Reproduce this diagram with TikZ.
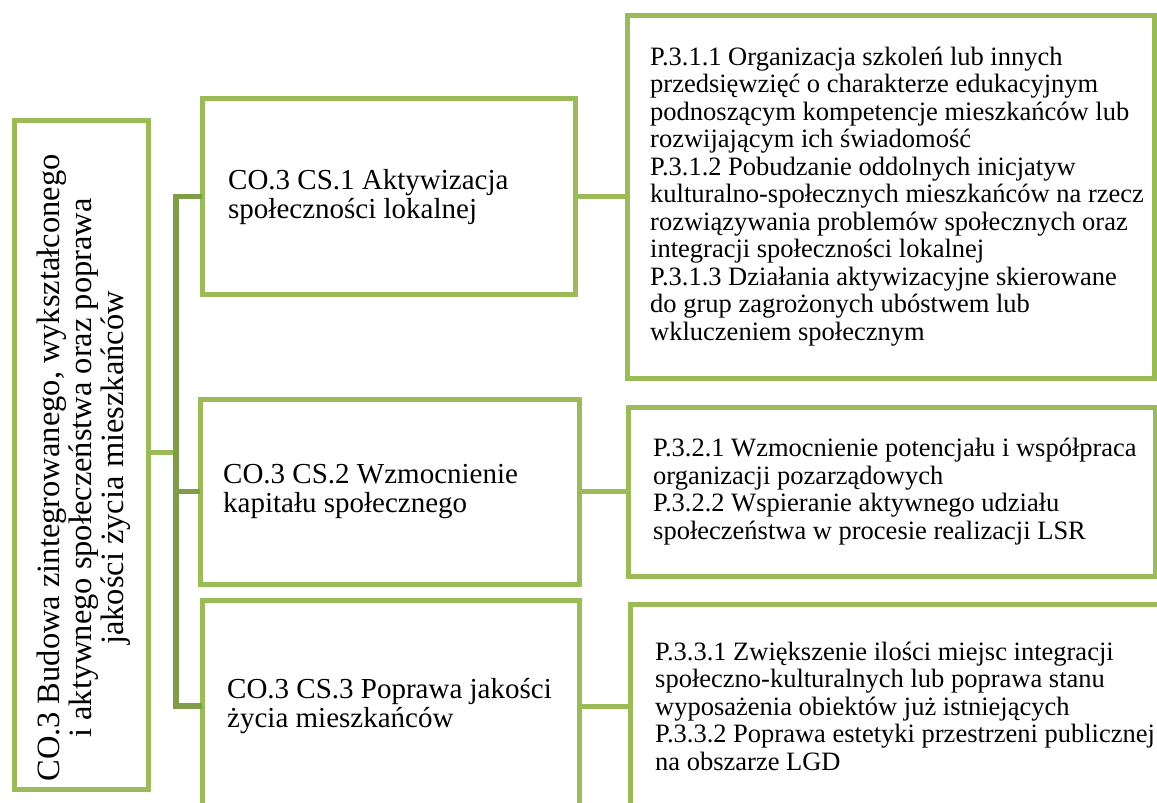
\documentclass[tikz,border=0pt]{standalone}
\usepackage{fontspec}
\setmainfont{Liberation Serif}
\definecolor{boxgreen}{HTML}{9BBB59}
\definecolor{spinegreen}{HTML}{7F9D48}
\begin{document}
\begin{tikzpicture}[x=1pt,y=-1pt,
  box/.style={draw=boxgreen, line width=5pt, rectangle, inner sep=0pt, outer sep=0pt},
  conn/.style={draw=boxgreen, line width=5pt},
  spineconn/.style={draw=spinegreen, line width=5.5pt},
  midtext/.style={anchor=west, align=left, inner sep=0pt, font=\fontsize{29}{29}\selectfont},
  sidetext/.style={anchor=west, align=left, inner sep=0pt, font=\fontsize{26.5}{27.5}\selectfont},
  roottext/.style={rotate=90, align=center, inner sep=0pt, font=\fontsize{32.5}{32}\selectfont}
]
\clip (0,0) rectangle (1157,803);
\fill[white] (0,0) rectangle (1157,803);

% boxes
\node[box, minimum width=134pt, minimum height=669pt] (L) at (81,454.5) {};
\node[box, minimum width=373pt, minimum height=196pt] (CS1) at (388.5,196.5) {};
\node[box, minimum width=379pt, minimum height=185pt] (CS2) at (389.5,491.5) {};
\node[box, minimum width=377pt, minimum height=212pt] (CS3) at (390.5,706) {};
\node[box, minimum width=527pt, minimum height=363pt] (RB1) at (890.5,196.5) {};
\node[box, minimum width=527pt, minimum height=169pt] (RB2) at (891.5,491.5) {};
\node[box, minimum width=540pt, minimum height=204pt] (RB3) at (900,706) {};

% connectors
\coordinate (sp) at (176,452);
\draw[conn] (L.east |- sp) -- (sp);
\draw[spineconn] (sp) |- (CS1.west);
\draw[spineconn] (sp) |- (CS2.west);
\draw[spineconn] (sp) |- (CS3.west);
\draw[conn] (CS1.east) -- (RB1.west);
\draw[conn] (CS2.east) -- (RB2.west);
\draw[conn] (CS3.east) -- (RB3.west);

% texts
\node[roottext] (Lt) at (84,468) {CO.3 Budowa zintegrowanego, wykształconego\\ i aktywnego społeczeństwa oraz poprawa\\ jakości życia mieszkańców};

\node[midtext] (CS1t) at ([xshift=26pt,yshift=-1pt]CS1.west) {CO.3 CS.1 Aktywizacja\\ społeczności lokalnej};
\node[midtext] (CS2t) at ([xshift=23pt]CS2.west) {CO.3 CS.2 Wzmocnienie\\ kapitału społecznego};
\node[midtext] (CS3t) at ([xshift=25pt]CS3.west) {CO.3 CS.3 Poprawa jakości\\ życia mieszkańców};

\node[sidetext] (RB1t) at ([xshift=23pt]RB1.west) {P.3.1.1 Organizacja szkoleń lub innych\\
przedsięwzięć o charakterze edukacyjnym\\
podnoszącym kompetencje mieszkańców lub\\
rozwijającym ich świadomość\\
P.3.1.2 Pobudzanie oddolnych inicjatyw\\
kulturalno-społecznych mieszkańców na rzecz\\
rozwiązywania problemów społecznych oraz\\
integracji społeczności lokalnej\\
P.3.1.3 Działania aktywizacyjne skierowane\\
do grup zagrożonych ubóstwem lub\\
wkluczeniem społecznym};

\node[sidetext] (RB2t) at ([xshift=25pt]RB2.west) {P.3.2.1 Wzmocnienie potencjału i współpraca\\
organizacji pozarządowych\\
P.3.2.2 Wspieranie aktywnego udziału\\
społeczeństwa w procesie realizacji LSR};

\node[sidetext] (RB3t) at ([xshift=25pt]RB3.west) {P.3.3.1 Zwiększenie ilości miejsc integracji\\
społeczno-kulturalnych lub poprawa stanu\\
wyposażenia obiektów już istniejących\\
P.3.3.2 Poprawa estetyki przestrzeni publicznej\\
na obszarze LGD};
\end{tikzpicture}
\end{document}
